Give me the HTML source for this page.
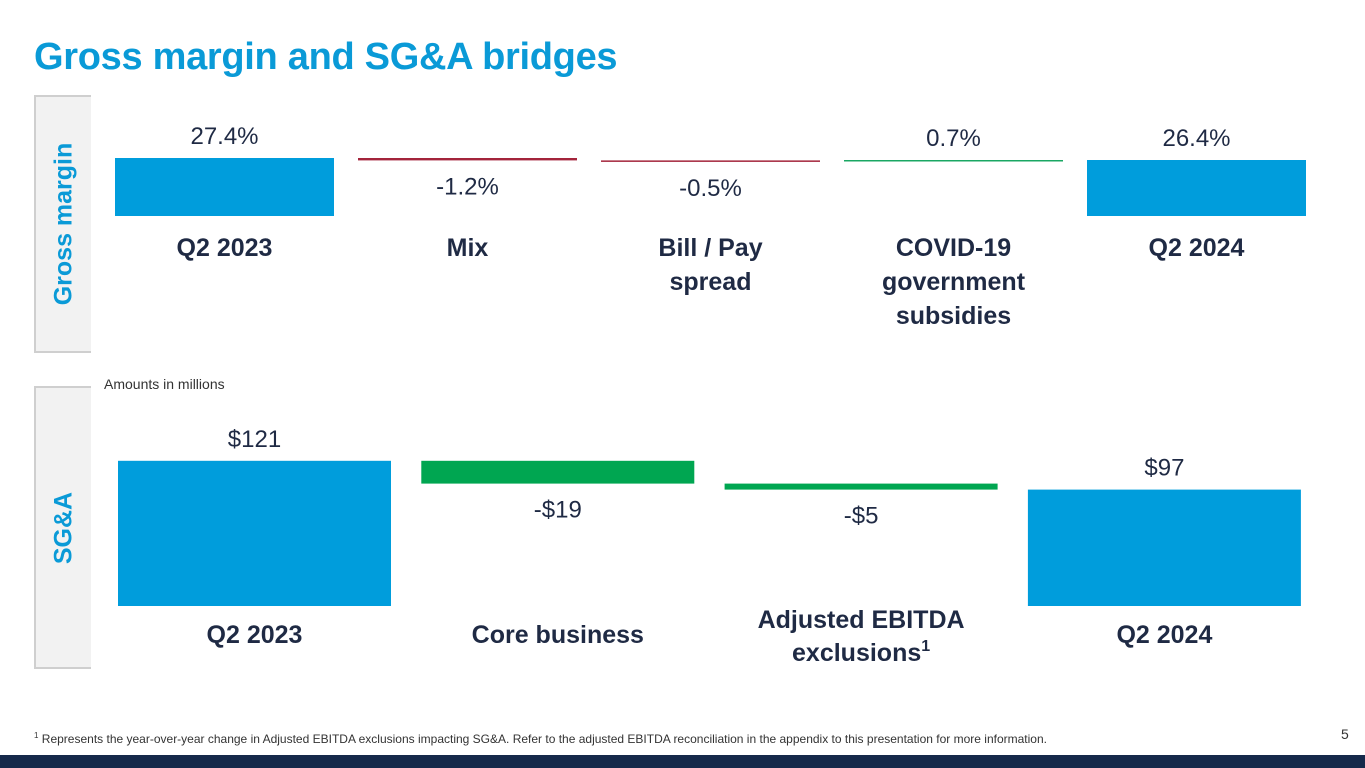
<!DOCTYPE html>
<html><head><meta charset="utf-8"><style>
body{margin:0;width:1365px;height:768px;overflow:hidden;background:#fff;font-family:"Liberation Sans",Arial,sans-serif;position:relative}
.abs{position:absolute}
.side{position:absolute;left:34px;width:55px;border:2px solid #cfcfcf;border-right:none;background:#f2f2f2}
.side span{position:absolute;left:50%;top:50%;transform:translate(-50%,-50%) rotate(-90deg);white-space:nowrap;color:#0a9ad7;font-weight:bold;font-size:25px}
</style></head><body>
<div class="abs" style="left:34px;top:36px;font-size:38px;font-weight:bold;color:#0a9ad7;letter-spacing:-0.3px">Gross margin and SG&amp;A bridges</div>
<div class="side" style="top:95px;height:254px"><span>Gross margin</span></div>
<div class="side" style="top:386px;height:279px"><span>SG&amp;A</span></div>
<div class="abs" style="left:104px;top:376px;font-size:14px;color:#333">Amounts in millions</div>
<svg class="abs" style="left:0;top:0" width="1365" height="768" id="chart"></svg>
<div class="abs" style="left:34px;top:731px;font-size:12px;color:#333"><sup style="font-size:8px">1</sup> Represents the year-over-year change in Adjusted EBITDA exclusions impacting SG&amp;A. Refer to the adjusted EBITDA reconciliation in the appendix to this presentation for more information.</div>
<div class="abs" style="left:1341px;top:726px;font-size:14px;color:#333">5</div>
<div class="abs" style="left:0;top:755px;width:1365px;height:13px;background:#15294a"></div>
<script>
const gmCats=[["Q2 2023"],["Mix"],["Bill / Pay","spread"],["COVID-19","government","subsidies"],["Q2 2024"]];
const gmValues=[27.4,-1.2,-0.5,0.7,26.4];
const gmLabels=["27.4%","-1.2%","-0.5%","0.7%","26.4%"];
const sgCats=[["Q2 2023"],["Core business"],["Adjusted EBITDA","exclusions"]];
const sgCatsLast=["Q2 2024"];
const sgValues=[121,-19,-5,97];
const sgLabels=["$121","-$19","-$5","$97"];
const NS="http://www.w3.org/2000/svg";
const svg=document.getElementById('chart');
function mk(t,a,txt){const e=document.createElementNS(NS,t);for(const k in a)e.setAttribute(k,a[k]);if(txt!=null)e.textContent=txt;svg.appendChild(e);return e;}
// gross margin: broken axis
const gmY=v=>158+(27.4-v)*2;const gmBase=216;
const gmX=i=>115+i*243;const gmW=219;
let run=0;
gmValues.forEach((v,i)=>{
  const last=i===gmValues.length-1, first=i===0;
  let r;
  if(first||last){const y=gmY(v);r=mk('rect',{x:gmX(i),y:y,width:gmW,height:gmBase-y,fill:'#009ddc'});run=v;
    const t=mk('text',{x:gmX(i)+gmW/2,y:y-14,'text-anchor':'middle','font-size':24,fill:'#1f2a44'},gmLabels[i]);
    
  } else {
    const a=gmY(run),b=gmY(run+v);run+=v;
    const top=Math.min(a,b),h=Math.max(Math.abs(a-b),1.5);
    r=mk('rect',{x:gmX(i),y:top,width:gmW,height:h,fill:v<0?'#a3243b':'#1aa763'});
    const ly=v<0?top+h+34:top-14;
    const t=mk('text',{x:gmX(i)+gmW/2,y:ly,'text-anchor':'middle','font-size':24,fill:'#1f2a44'},gmLabels[i]);
    
  }
  
  gmCats[i].forEach((s,j)=>{const t=mk('text',{x:gmX(i)+gmW/2,y:256+j*34,'text-anchor':'middle','font-size':25,'font-weight':'bold',fill:'#1f2a44'},s);
    });
});
// SG&A
const sgY=v=>606-v*1.2;const sgX=i=>118+i*303.3;const sgW=273;
run=0;
const allSg=sgCats.concat([sgCatsLast]);
sgValues.forEach((v,i)=>{
  const last=i===sgValues.length-1, first=i===0;let r,ly;
  if(first||last){const y=sgY(v);r=mk('rect',{x:sgX(i),y:y,width:sgW,height:606-y,fill:'#009ddc'});run=v;ly=y-14;}
  else{const a=sgY(run),b=sgY(run+v);run+=v;const top=Math.min(a,b),h=Math.abs(a-b);
    r=mk('rect',{x:sgX(i),y:top,width:sgW,height:h,fill:'#00a651'});ly=top+h+34;}
  
  const t=mk('text',{x:sgX(i)+sgW/2,y:ly,'text-anchor':'middle','font-size':24,fill:'#1f2a44'},sgLabels[i]);
  
  const lines=allSg[i];const y0=lines.length>1?628:643;
  lines.forEach((s,j)=>{const tt=mk('text',{x:sgX(i)+sgW/2,y:y0+j*33,'text-anchor':'middle','font-size':25,'font-weight':'bold',fill:'#1f2a44'},s);
    if(i===2&&j===1){const sp=document.createElementNS(NS,'tspan');sp.setAttribute('font-size',16);sp.setAttribute('dy',-10);sp.textContent='1';tt.appendChild(sp);}
    });
});
</script>
</body></html>
